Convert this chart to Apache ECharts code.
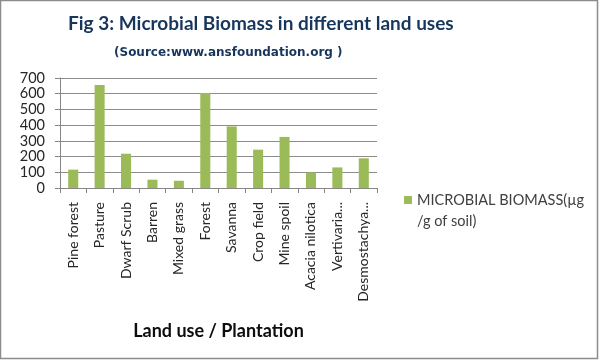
<!DOCTYPE html>
<html><head><meta charset="utf-8">
<script src="https://cdn.jsdelivr.net/npm/echarts@6/dist/echarts.min.js"></script>
<style>html,body{margin:0;padding:0;background:#fff}#c{width:600px;height:360px}</style>
</head><body><div id="c"></div>
<script>
const categories = ["Pine forest","Pasture","Dwarf Scrub","Barren","Mixed grass","Forest","Savanna","Crop field","Mine spoil","Acacia nilotica","Vertivaria...","Desmostachya..."];
const biomass = [117, 656, 218, 53, 46, 605, 392, 244, 325, 99, 131, 189];
const seriesName = "MICROBIAL BIOMASS(µg";
const seriesNameLine2 = "/g of soil)";
const yTicks = {min: 0, max: 700, interval: 100};

const chart = echarts.init(document.getElementById('c'));
const FONT = 'Lato';
chart.setOption({
  animation: false,
  backgroundColor: '#fff',
  title: [{
    text: 'Fig 3: Microbial Biomass in different land uses',
    left: 63, top: 9,
    textStyle: {fontFamily: FONT, fontSize: 19, fontWeight: 'bold', color: '#17365D'}
  },{
    text: '(Source:www.ansfoundation.org )',
    left: 109, top: 42,
    textStyle: {fontFamily: 'DejaVu Sans', fontSize: 12, fontWeight: 'bold', color: '#17365D'}
  }],
  legend: {
    left: 399, top: 184, orient: 'vertical',
    itemWidth: 8, itemHeight: 8, itemGap: 4,
    icon: 'rect',
    textStyle: {fontFamily: FONT, fontSize: 14.5, color: '#404040', lineHeight: 22},
    data: [seriesName]
  },
  grid: {left: 60, right: 223, top: 78, bottom: 172, containLabel: false},
  xAxis: {
    type: 'category', data: categories,
    axisLine: {lineStyle: {color: '#868686'}},
    axisTick: {show: true, length: 5, lineStyle: {color: '#868686'}},
    axisLabel: {rotate: 90, fontFamily: FONT, fontSize: 14, color: '#262626', margin: 14, interval: 0},
    name: 'Land use / Plantation', nameLocation: 'middle', nameGap: 134,
    nameTextStyle: {fontFamily: FONT, fontSize: 18, fontWeight: 'bold', color: '#0d0d0d'}
  },
  yAxis: {
    type: 'value', min: yTicks.min, max: yTicks.max, interval: yTicks.interval,
    axisLine: {show: true, lineStyle: {color: '#868686'}},
    axisTick: {show: true, length: 5, lineStyle: {color: '#868686'}},
    axisLabel: {fontFamily: FONT, fontSize: 14.5, color: '#262626', margin: 15},
    splitLine: {lineStyle: {color: '#8c8c8c'}}
  },
  series: [{
    name: seriesName, type: 'bar', data: biomass,
    barWidth: '38%',
    itemStyle: {color: '#9BBB59'}
  }],
  graphic: [{
    type: 'text', left: 417, top: 214,
    style: {text: seriesNameLine2, font: '14.5px Lato', fill: '#404040'}
  },{
    type: 'rect', shape: {x: 0.5, y: 0.5, width: 597, height: 358},
    style: {fill: null, stroke: '#8c8c8c', lineWidth: 1.5}
  }]
});
</script></body></html>
